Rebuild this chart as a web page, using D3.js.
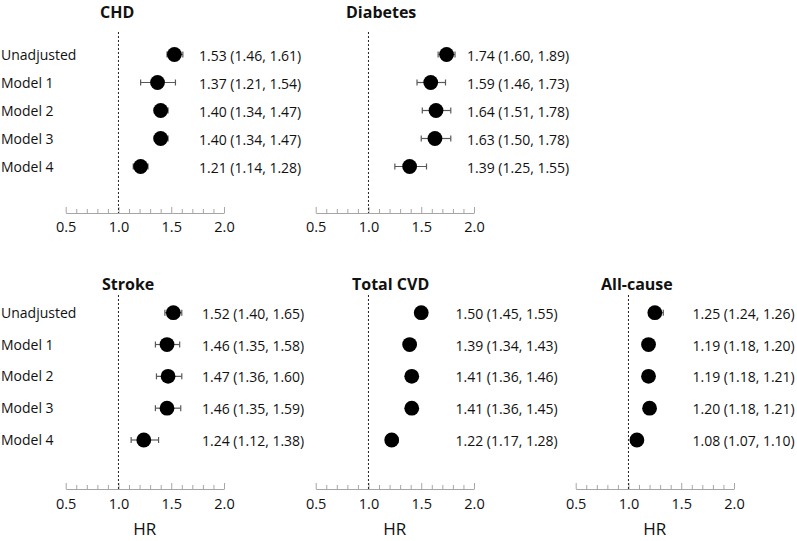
<!DOCTYPE html>
<html>
<head>
<meta charset="utf-8">
<script src="https://cdn.jsdelivr.net/npm/d3@7"></script>
<style>
  html, body { margin: 0; padding: 0; background: #fff; }
  svg { display: block; }
  text { font-family: "Open Sans", "Noto Sans", sans-serif; fill: #111; }
</style>
</head>
<body>
<svg id="chart" width="797" height="541"></svg>
<script>
// ---- data ----
const models = ["Unadjusted", "Model 1", "Model 2", "Model 3", "Model 4"];
const outcomes = ["CHD", "Diabetes", "Stroke", "Total CVD", "All-cause"];
// hazard ratios and 95% CI as printed
const hrCHD = [1.53, 1.37, 1.40, 1.40, 1.21];
const loCHD = [1.46, 1.21, 1.34, 1.34, 1.14];
const hiCHD = [1.61, 1.54, 1.47, 1.47, 1.28];
const hrDiabetes = [1.74, 1.59, 1.64, 1.63, 1.39];
const loDiabetes = [1.60, 1.46, 1.51, 1.50, 1.25];
const hiDiabetes = [1.89, 1.73, 1.78, 1.78, 1.55];
const hrStroke = [1.52, 1.46, 1.47, 1.46, 1.24];
const loStroke = [1.40, 1.35, 1.36, 1.35, 1.12];
const hiStroke = [1.65, 1.58, 1.60, 1.59, 1.38];
const hrCVD = [1.50, 1.39, 1.41, 1.41, 1.22];
const loCVD = [1.45, 1.34, 1.36, 1.36, 1.17];
const hiCVD = [1.55, 1.43, 1.46, 1.45, 1.28];
const hrAll = [1.25, 1.19, 1.19, 1.20, 1.08];
const loAll = [1.24, 1.18, 1.18, 1.18, 1.07];
const hiAll = [1.26, 1.20, 1.21, 1.21, 1.10];
// whisker ends as drawn in the picture (unadjusted rows differ from printed CI)
const barLoCHD = [1.46, 1.21, 1.34, 1.34, 1.14];
const barHiCHD = [1.61, 1.54, 1.47, 1.47, 1.28];
const barLoDiabetes = [1.66, 1.46, 1.51, 1.50, 1.25];
const barHiDiabetes = [1.82, 1.73, 1.78, 1.78, 1.55];
const barLoStroke = [1.44, 1.35, 1.36, 1.35, 1.12];
const barHiStroke = [1.60, 1.58, 1.60, 1.59, 1.38];
const barLoCVD = [1.47, 1.34, 1.36, 1.36, 1.17];
const barHiCVD = [1.53, 1.43, 1.46, 1.45, 1.28];
const barLoAll = [1.20, 1.18, 1.18, 1.18, 1.07];
const barHiAll = [1.33, 1.20, 1.21, 1.21, 1.10];
const majorTicks = [0.5, 1.0, 1.5, 2.0];
const minorTicks = [0.6, 0.7, 0.8, 0.9, 1.1, 1.2, 1.3, 1.4, 1.6, 1.7, 1.8, 1.9];
const xDomain = [0.5, 2.0];
const refValue = 1.0;
const axisTitle = "HR";

const series = [
  { name: outcomes[0], hr: hrCHD, lo: loCHD, hi: hiCHD, bLo: barLoCHD, bHi: barHiCHD },
  { name: outcomes[1], hr: hrDiabetes, lo: loDiabetes, hi: hiDiabetes, bLo: barLoDiabetes, bHi: barHiDiabetes },
  { name: outcomes[2], hr: hrStroke, lo: loStroke, hi: hiStroke, bLo: barLoStroke, bHi: barHiStroke },
  { name: outcomes[3], hr: hrCVD, lo: loCVD, hi: hiCVD, bLo: barLoCVD, bHi: barHiCVD },
  { name: outcomes[4], hr: hrAll, lo: loAll, hi: hiAll, bLo: barLoAll, bHi: barHiAll }
];

// ---- layout ----
const layout = [
  { x0: 65.7, axisY: 213, rows: [54.5, 166.5], dashTop: 32, titleX: 100, titleY: 12, annX: 199, labels: true, hrLabel: false, pad: 9 },
  { x0: 315.7, axisY: 213, rows: [54.5, 166.5], dashTop: 32, titleX: 346, titleY: 12, annX: 467, labels: false, hrLabel: false, pad: 9 },
  { x0: 65.7, axisY: 489, rows: [312.7, 440], dashTop: 295, titleX: 102, titleY: 284, annX: 202, labels: true, hrLabel: true, pad: 10 },
  { x0: 315.7, axisY: 489, rows: [312.7, 440], dashTop: 295, titleX: 352, titleY: 284, annX: 455.5, labels: false, hrLabel: true, pad: 10 },
  { x0: 575.7, axisY: 489, rows: [312.7, 440], dashTop: 295, titleX: 601, titleY: 284, annX: 692.5, labels: false, hrLabel: true, pad: 10 }
];
const axisWidth = 158.3;
const fmt = d3.format(".2f");

const svg = d3.select("#chart");

series.forEach((s, i) => {
  const L = layout[i];
  const x = d3.scaleLinear().domain(xDomain).range([L.x0, L.x0 + axisWidth]);
  const y = d3.scalePoint().domain(models).range(L.rows);
  const g = svg.append("g");

  // title
  g.append("text")
    .attr("x", L.titleX).attr("y", L.titleY)
    .attr("dy", "0.36em")
    .style("font-weight", "bold").style("font-size", "16px")
    .text(s.name);

  // minor ticks
  const minorAxis = d3.axisBottom(x).tickValues(minorTicks).tickSizeInner(-4).tickSizeOuter(0).tickFormat("");
  const gm = g.append("g").attr("transform", `translate(0,${L.axisY})`).call(minorAxis);
  gm.select(".domain").remove();
  gm.selectAll(".tick line").attr("stroke", "#a6a6a6");

  // major axis
  const majorAxis = d3.axisBottom(x).tickValues(majorTicks).tickSizeInner(-6).tickSizeOuter(0)
    .tickPadding(L.pad).tickFormat(d3.format(".1f"));
  const ga = g.append("g").attr("transform", `translate(0,${L.axisY})`).call(majorAxis);
  ga.select(".domain").attr("stroke", "#a6a6a6");
  ga.selectAll(".tick line").attr("stroke", "#a6a6a6");
  ga.selectAll(".tick text").style("font-size", "14.5px").style("font-family", '"Open Sans", sans-serif').attr("fill", "#111");

  // reference line
  g.append("line")
    .attr("x1", x(refValue)).attr("x2", x(refValue))
    .attr("y1", L.dashTop).attr("y2", L.axisY)
    .attr("stroke", "#222").attr("stroke-width", 1).attr("stroke-dasharray", "2,2");

  // HR label
  if (L.hrLabel) {
    g.append("text")
      .attr("x", x((xDomain[0] + xDomain[1]) / 2)).attr("y", 529)
      .attr("dy", "0.36em").attr("text-anchor", "middle")
      .style("font-size", "17px")
      .text(axisTitle);
  }

  // row labels
  if (L.labels) {
    g.selectAll(".rowlab").data(models).enter().append("text")
      .attr("x", 1).attr("y", d => y(d)).attr("dy", "0.36em")
      .style("font-size", "14px")
      .text(d => d);
  }

  const rows = models.map((m, k) => ({ m, hr: s.hr[k], lo: s.lo[k], hi: s.hi[k], bLo: s.bLo[k], bHi: s.bHi[k] }));

  // error bars
  const eb = g.selectAll(".eb").data(rows).enter().append("g").attr("stroke", "#595959").attr("stroke-width", 1.2);
  eb.append("line").attr("x1", d => x(d.bLo)).attr("x2", d => x(d.bHi)).attr("y1", d => y(d.m)).attr("y2", d => y(d.m));
  eb.append("line").attr("x1", d => x(d.bLo)).attr("x2", d => x(d.bLo)).attr("y1", d => y(d.m) - 3).attr("y2", d => y(d.m) + 3);
  eb.append("line").attr("x1", d => x(d.bHi)).attr("x2", d => x(d.bHi)).attr("y1", d => y(d.m) - 3).attr("y2", d => y(d.m) + 3);

  // points
  g.selectAll(".pt").data(rows).enter().append("circle")
    .attr("cx", d => x(d.hr)).attr("cy", d => y(d.m)).attr("r", 7.4)
    .attr("fill", "#000");

  // annotations
  g.selectAll(".ann").data(rows).enter().append("text")
    .attr("x", L.annX).attr("y", d => y(d.m) + 1).attr("dy", "0.36em")
    .style("font-size", "14px")
    .text(d => `${fmt(d.hr)} (${fmt(d.lo)}, ${fmt(d.hi)})`);
});
</script>
</body>
</html>
